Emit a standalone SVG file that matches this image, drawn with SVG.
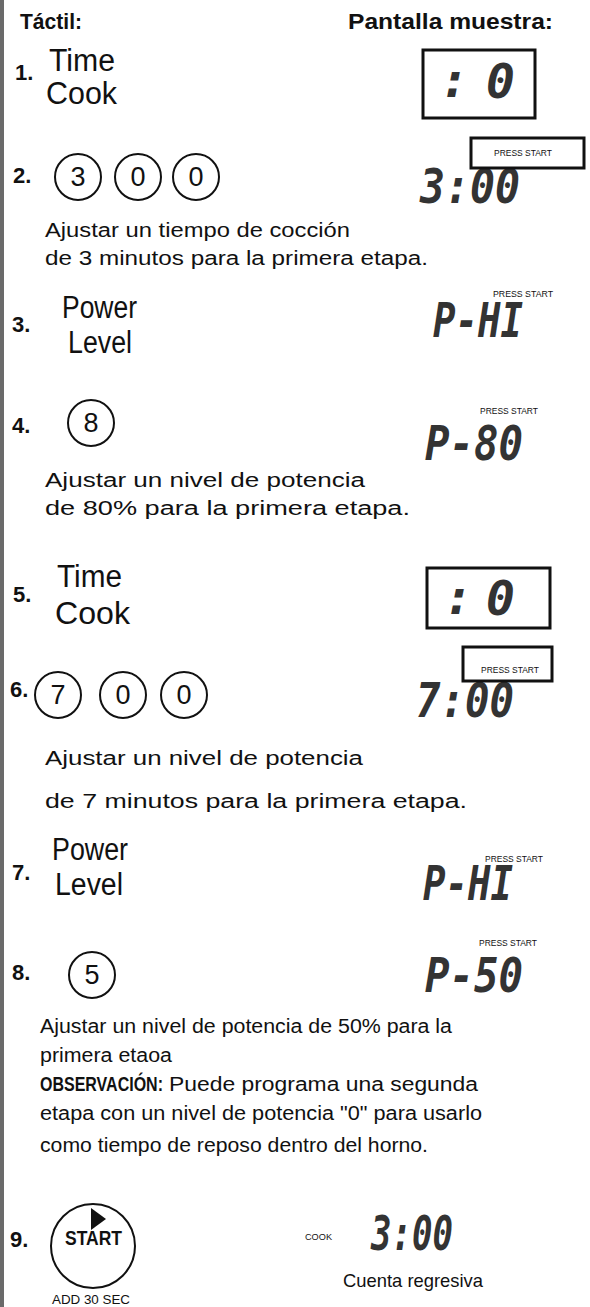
<svg xmlns="http://www.w3.org/2000/svg" width="590" height="1307" viewBox="0 0 590 1307">
<style>
text{font-family:"Liberation Sans",Arial,sans-serif;fill:#111}
.hd{font-weight:bold;font-size:22px}
.num{font-weight:bold;font-size:22px}
.key{font-size:31px}
.dig{font-size:27px;text-anchor:middle}
.body{font-size:20px}
.bold{font-weight:bold}
.seg{font-family:"DejaVu Sans Mono",monospace;font-weight:bold;font-style:italic;font-size:48px;fill:#333}
.ps{font-size:8.3px}
.box{fill:#fff;stroke:#111;stroke-width:3}
.ring{fill:none;stroke:#111;stroke-width:2}
</style>
<rect x="0" y="0" width="4" height="1307" fill="#6a6a6a"/>
<g id="header">
<text class="hd" x="20" y="29" textLength="62" lengthAdjust="spacingAndGlyphs">Táctil:</text>
<text class="hd" x="348" y="29" textLength="205" lengthAdjust="spacingAndGlyphs">Pantalla muestra:</text>
</g>
<g id="connectors"></g>
<g id="step1">
<text class="num" x="15" y="80">1.</text>
<text class="key" x="49" y="71" textLength="66" lengthAdjust="spacingAndGlyphs">Time</text>
<text class="key" x="46" y="104" textLength="71" lengthAdjust="spacingAndGlyphs">Cook</text>
<rect class="box" x="423" y="50" width="112" height="68"/>
<text class="seg"><tspan x="440" y="97">:</tspan><tspan x="486" y="98">0</tspan></text>
</g>
<g id="step2">
<text class="num" x="13" y="183">2.</text>
<circle class="ring" cx="78" cy="177" r="23"/>
<circle class="ring" cx="138" cy="177" r="23"/>
<circle class="ring" cx="196" cy="177" r="23"/>
<text class="dig" x="78" y="186">3</text>
<text class="dig" x="138" y="186">0</text>
<text class="dig" x="196" y="186">0</text>
<text class="seg" x="420" y="203" textLength="100" lengthAdjust="spacingAndGlyphs">3:00</text>
<rect class="box" x="471" y="138" width="113" height="30"/>
<text class="ps" x="494" y="156" textLength="58" lengthAdjust="spacingAndGlyphs">PRESS START</text>
<text class="body" x="45" y="237" textLength="305" lengthAdjust="spacingAndGlyphs">Ajustar un tiempo de cocción</text>
<text class="body" x="45" y="265" textLength="383" lengthAdjust="spacingAndGlyphs">de 3 minutos para la primera etapa.</text>
</g>
<g id="step3">
<text class="num" x="12" y="332">3.</text>
<text class="key" x="62" y="318" textLength="75" lengthAdjust="spacingAndGlyphs">Power</text>
<text class="key" x="68" y="353" textLength="64" lengthAdjust="spacingAndGlyphs">Level</text>
<text class="ps" x="493" y="297" textLength="60" lengthAdjust="spacingAndGlyphs">PRESS START</text>
<text class="seg" x="433" y="337" textLength="90" lengthAdjust="spacingAndGlyphs">P-HI</text>
</g>
<g id="step4">
<text class="num" x="12" y="433">4.</text>
<circle class="ring" cx="91" cy="423" r="23"/>
<text class="dig" x="91" y="432">8</text>
<text class="ps" x="480" y="414" textLength="58" lengthAdjust="spacingAndGlyphs">PRESS START</text>
<text class="seg" x="425" y="460" textLength="98" lengthAdjust="spacingAndGlyphs">P-80</text>
<text class="body" x="45" y="487" textLength="320" lengthAdjust="spacingAndGlyphs">Ajustar un nivel de potencia</text>
<text class="body" x="45" y="515" textLength="365" lengthAdjust="spacingAndGlyphs">de 80% para la primera etapa.</text>
</g>
<g id="step5">
<text class="num" x="13" y="602">5.</text>
<text class="key" x="57" y="587" textLength="65" lengthAdjust="spacingAndGlyphs">Time</text>
<text class="key" x="55" y="624" textLength="75" lengthAdjust="spacingAndGlyphs">Cook</text>
<rect class="box" x="427" y="568" width="123" height="60"/>
<text class="seg"><tspan x="444" y="614">:</tspan><tspan x="486" y="615">0</tspan></text>
</g>
<g id="step6">
<text class="num" x="10" y="697">6.</text>
<circle class="ring" cx="58" cy="695" r="23"/>
<circle class="ring" cx="123" cy="695" r="23"/>
<circle class="ring" cx="184" cy="695" r="23"/>
<text class="dig" x="58" y="704">7</text>
<text class="dig" x="123" y="704">0</text>
<text class="dig" x="184" y="704">0</text>
<text class="seg" x="416" y="717" textLength="98" lengthAdjust="spacingAndGlyphs">7:00</text>
<rect class="box" x="463" y="647" width="89" height="34"/>
<text class="ps" x="481" y="673" textLength="58" lengthAdjust="spacingAndGlyphs">PRESS START</text>
<text class="body" x="45" y="765" textLength="318" lengthAdjust="spacingAndGlyphs">Ajustar un nivel de potencia</text>
<text class="body" x="45" y="808" textLength="422" lengthAdjust="spacingAndGlyphs">de 7 minutos para la primera etapa.</text>
</g>
<g id="step7">
<text class="num" x="12" y="880">7.</text>
<text class="key" x="52" y="860" textLength="76" lengthAdjust="spacingAndGlyphs">Power</text>
<text class="key" x="55" y="895" textLength="68" lengthAdjust="spacingAndGlyphs">Level</text>
<text class="ps" x="485" y="862" textLength="58" lengthAdjust="spacingAndGlyphs">PRESS START</text>
<text class="seg" x="423" y="900" textLength="90" lengthAdjust="spacingAndGlyphs">P-HI</text>
</g>
<g id="step8">
<text class="num" x="12" y="980">8.</text>
<circle class="ring" cx="92" cy="975" r="23"/>
<text class="dig" x="92" y="984">5</text>
<text class="ps" x="479" y="946" textLength="58" lengthAdjust="spacingAndGlyphs">PRESS START</text>
<text class="seg" x="425" y="992" textLength="98" lengthAdjust="spacingAndGlyphs">P-50</text>
<text class="body" x="40" y="1033" textLength="412" lengthAdjust="spacingAndGlyphs">Ajustar un nivel de potencia de 50% para la</text>
<text class="body" x="40" y="1062" textLength="132" lengthAdjust="spacingAndGlyphs">primera etaoa</text>
<text class="body" x="40" y="1091"><tspan class="bold" textLength="123" lengthAdjust="spacingAndGlyphs">OBSERVACIÓN:</tspan><tspan x="169" textLength="309" lengthAdjust="spacingAndGlyphs">Puede programa una segunda</tspan></text>
<text class="body" x="40" y="1120" textLength="442" lengthAdjust="spacingAndGlyphs">etapa con un nivel de potencia "0" para usarlo</text>
<text class="body" x="40" y="1152" textLength="388" lengthAdjust="spacingAndGlyphs">como tiempo de reposo dentro del horno.</text>
</g>
<g id="step9">
<text class="num" x="10" y="1247">9.</text>
<circle class="ring" cx="93" cy="1246" r="42"/>
<polygon points="91,1208 106,1219 91,1230" fill="#111"/>
<text class="bold" x="65" y="1245" font-size="21" textLength="57" lengthAdjust="spacingAndGlyphs">START</text>
<text x="52" y="1304" font-size="12" textLength="78" lengthAdjust="spacingAndGlyphs">ADD 30 SEC</text>
<text x="305" y="1240" font-size="8.5" textLength="27" lengthAdjust="spacingAndGlyphs">COOK</text>
<text class="seg" x="371" y="1250" textLength="82" lengthAdjust="spacingAndGlyphs">3:00</text>
<text x="343" y="1287" font-size="19" textLength="140" lengthAdjust="spacingAndGlyphs">Cuenta regresiva</text>
</g>
</svg>
